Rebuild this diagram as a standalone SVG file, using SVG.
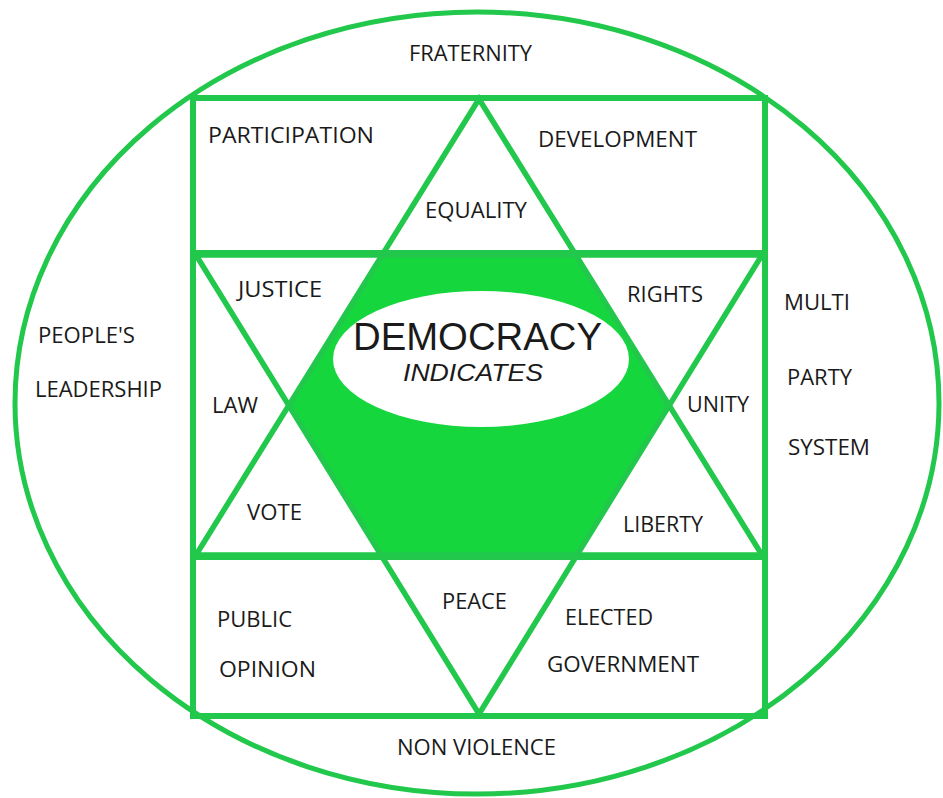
<svg xmlns="http://www.w3.org/2000/svg" width="943" height="798" viewBox="0 0 943 798">
<style>
.ln{fill:none;stroke:#22c84b;stroke-linejoin:miter;stroke-linecap:round}
.t{font-family:"Open Sans","Liberation Sans",sans-serif;font-size:22px;fill:#1a1a1a}
.big{font-family:"Liberation Sans",sans-serif;font-size:38px}
.it{font-family:"Liberation Sans",sans-serif;font-size:24px;font-style:italic}
</style>
<rect width="943" height="798" fill="#ffffff"/>
<g id="outer-ellipse">
<ellipse class="ln" cx="477" cy="403" rx="462" ry="391" stroke-width="5"/>
</g>
<g id="hexagon">
<polygon points="383,253 575,253 669,406 577,557 381,557 288,406" fill="#16d63e"/>
<ellipse cx="481" cy="359" rx="148" ry="68" fill="#ffffff"/>
</g>
<g id="connectors">
<rect class="ln" x="193" y="98" width="572" height="618" stroke-width="6"/>
<line class="ln" x1="193" y1="253" x2="765" y2="253" stroke-width="6"/>
<line class="ln" x1="193" y1="557" x2="765" y2="557" stroke-width="6"/>
<polygon class="ln" points="479,99 196,555 762,555" stroke-width="5.5"/>
<polygon class="ln" points="196,255 762,255 479,714" stroke-width="5.5"/>
</g>
<g id="labels">
<g id="n-fraternity"><text class="t" x="409" y="61" textLength="123" lengthAdjust="spacingAndGlyphs">FRATERNITY</text></g>
<g id="n-participation"><text class="t" x="208" y="143" textLength="166" lengthAdjust="spacingAndGlyphs">PARTICIPATION</text></g>
<g id="n-equality"><text class="t" x="425" y="218" textLength="102" lengthAdjust="spacingAndGlyphs">EQUALITY</text></g>
<g id="n-development"><text class="t" x="538" y="147" textLength="159" lengthAdjust="spacingAndGlyphs">DEVELOPMENT</text></g>
<g id="n-justice"><text class="t" x="238" y="297" textLength="84" lengthAdjust="spacingAndGlyphs">JUSTICE</text></g>
<g id="n-democracy"><text class="t big" x="353" y="350" textLength="249" lengthAdjust="spacingAndGlyphs">DEMOCRACY</text>
<text class="t it" x="403" y="381" textLength="140" lengthAdjust="spacingAndGlyphs">INDICATES</text></g>
<g id="n-law"><text class="t" x="212" y="413" textLength="46" lengthAdjust="spacingAndGlyphs">LAW</text></g>
<g id="n-vote"><text class="t" x="247" y="520" textLength="55" lengthAdjust="spacingAndGlyphs">VOTE</text></g>
<g id="n-rights"><text class="t" x="627" y="302" textLength="76" lengthAdjust="spacingAndGlyphs">RIGHTS</text></g>
<g id="n-unity"><text class="t" x="687" y="412" textLength="62" lengthAdjust="spacingAndGlyphs">UNITY</text></g>
<g id="n-liberty"><text class="t" x="623" y="532" textLength="80" lengthAdjust="spacingAndGlyphs">LIBERTY</text></g>
<g id="n-public-opinion"><text class="t" x="217" y="627" textLength="75" lengthAdjust="spacingAndGlyphs">PUBLIC</text>
<text class="t" x="219" y="677" textLength="97" lengthAdjust="spacingAndGlyphs">OPINION</text></g>
<g id="n-peace"><text class="t" x="442" y="609" textLength="65" lengthAdjust="spacingAndGlyphs">PEACE</text></g>
<g id="n-elected-government"><text class="t" x="565" y="625" textLength="88" lengthAdjust="spacingAndGlyphs">ELECTED</text>
<text class="t" x="547" y="672" textLength="152" lengthAdjust="spacingAndGlyphs">GOVERNMENT</text></g>
<g id="n-non-violence"><text class="t" x="397" y="755" textLength="159" lengthAdjust="spacingAndGlyphs">NON VIOLENCE</text></g>
<g id="n-peoples-leadership"><text class="t" x="38" y="343" textLength="97" lengthAdjust="spacingAndGlyphs">PEOPLE'S</text>
<text class="t" x="35" y="397" textLength="127" lengthAdjust="spacingAndGlyphs">LEADERSHIP</text></g>
<g id="n-multi-party-system"><text class="t" x="784" y="310" textLength="66" lengthAdjust="spacingAndGlyphs">MULTI</text>
<text class="t" x="787" y="385" textLength="65" lengthAdjust="spacingAndGlyphs">PARTY</text>
<text class="t" x="788" y="455" textLength="82" lengthAdjust="spacingAndGlyphs">SYSTEM</text></g>
</g>
</svg>
